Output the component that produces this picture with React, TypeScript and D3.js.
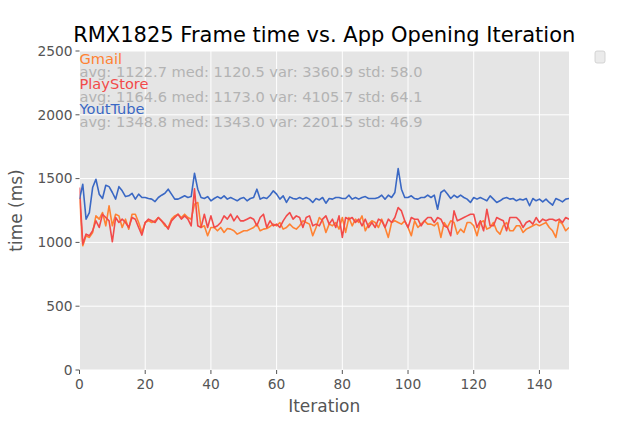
import React from "react";
import * as d3 from "d3";

const title = "RMX1825 Frame time vs. App Opening Iteration";
const seriesNames = ["Gmail", "PlayStore", "YoutTube"];
const seriesColors = ["#FF8232", "#F24A4A", "#3A68C4"];
const statLines = [
  "avg: 1122.7 med: 1120.5 var: 3360.9 std: 58.0",
  "avg: 1164.6 med: 1173.0 var: 4105.7 std: 64.1",
  "avg: 1348.8 med: 1343.0 var: 2201.5 std: 46.9",
];
const xTicks = [0, 20, 40, 60, 80, 100, 120, 140];
const yTicks = [0, 500, 1000, 1500, 2000, 2500];

const gmail = [
  1350, 974, 1052, 1039, 1078, 1208, 1182, 1234, 1130, 1286,
  1130, 1221, 1208, 1117, 1182, 1104, 1221, 1221, 1156, 1078,
  1156, 1169, 1156, 1169, 1195, 1169, 1130, 1117, 1182, 1208,
  1221, 1195, 1221, 1195, 1182, 1300, 1313, 1117, 1130, 1052,
  1117, 1117, 1091, 1117, 1078, 1109, 1104, 1091, 1065, 1078,
  1091, 1091, 1104, 1117, 1143, 1091, 1104, 1109, 1125, 1143,
  1130, 1156, 1104, 1117, 1143, 1117, 1104, 1130, 1169, 1156,
  1143, 1052, 1117, 1195, 1169, 1078, 1143, 1130, 1156, 1104,
  1195, 1078, 1195, 1130, 1182, 1156, 1208, 1091, 1143, 1169,
  1156, 1117, 1182, 1117, 1039, 1156, 1169, 1156, 1143, 1169,
  1117, 1052, 1169, 1117, 1143, 1169, 1143, 1143, 1130, 1156,
  1039, 1156, 1117, 1169, 1156, 1065, 1104, 1078, 1156, 1156,
  1130, 1052, 1156, 1169, 1104, 1117, 1156, 1091, 1065, 1130,
  1156, 1091, 1091, 1130, 1130, 1078, 1104, 1117, 1130, 1143,
  1130, 1143, 1156, 1117, 1091, 1039, 1169, 1143, 1091, 1117,
];
const playStore = [
  1430, 987, 1065, 1052, 1091, 1169, 1117, 1221, 1195, 1169,
  1005, 1195, 1156, 1182, 1156, 1117, 1195, 1182, 1117, 1057,
  1156, 1182, 1169, 1156, 1195, 1169, 1143, 1104, 1169, 1195,
  1221, 1182, 1208, 1182, 1130, 1420, 1130, 1117, 1221, 1117,
  1208, 1117, 1130, 1156, 1208, 1182, 1221, 1169, 1208, 1169,
  1169, 1182, 1195, 1182, 1130, 1195, 1221, 1117, 1169, 1130,
  1143, 1117, 1169, 1208, 1234, 1182, 1208, 1195, 1117, 1195,
  1208, 1130, 1143, 1130, 1182, 1208, 1143, 1182, 1117, 1208,
  1039, 1195, 1182, 1195, 1156, 1182, 1130, 1182, 1117, 1156,
  1117, 1182, 1169, 1117, 1182, 1156, 1195, 1273, 1247, 1169,
  1117, 1195, 1182, 1182, 1130, 1169, 1195, 1195, 1156, 1195,
  1182, 1130, 1117, 1052, 1247, 1169, 1182, 1195, 1208, 1221,
  1221, 1117, 1169, 1091, 1260, 1130, 1130, 1195, 1182, 1169,
  1091, 1195, 1195, 1195, 1169, 1117, 1156, 1169, 1143, 1195,
  1156, 1182, 1169, 1182, 1182, 1169, 1182, 1156, 1195, 1182,
];
const youTube = [
  1339, 1456, 1182, 1234, 1430, 1495, 1378, 1344, 1448, 1437,
  1391, 1339, 1437, 1404, 1359, 1365, 1385, 1339, 1378, 1352,
  1352, 1344, 1339, 1320, 1352, 1370, 1385, 1417, 1378, 1339,
  1339, 1352, 1365, 1352, 1359, 1542, 1417, 1352, 1344, 1359,
  1326, 1344, 1359, 1344, 1365, 1339, 1352, 1339, 1326, 1344,
  1352, 1326, 1344, 1352, 1417, 1339, 1352, 1344, 1370, 1404,
  1378, 1339, 1365, 1313, 1357, 1344, 1339, 1352, 1339, 1352,
  1339, 1313, 1344, 1333, 1352, 1307, 1344, 1339, 1352, 1352,
  1344, 1344, 1370, 1339, 1352, 1339, 1352, 1359, 1344, 1344,
  1344, 1352, 1370, 1339, 1370, 1352, 1391, 1578, 1417, 1352,
  1352, 1365, 1344, 1339, 1352, 1352, 1370, 1352, 1370, 1260,
  1391, 1410, 1380, 1344, 1370, 1352, 1370, 1352, 1339, 1313,
  1352, 1339, 1352, 1339, 1326, 1365, 1339, 1313, 1326, 1344,
  1352, 1339, 1344, 1326, 1339, 1333, 1344, 1287, 1344, 1326,
  1339, 1318, 1339, 1313, 1292, 1344, 1333, 1318, 1339, 1344,
];
const seriesData = [gmail, playStore, youTube];

const W = 633;
const H = 422;
const margin = { left: 79.5, right: 64, top: 51, bottom: 52 };
const FONT = "DejaVu Sans, sans-serif";

export default function App() {
  const x = d3.scaleLinear().domain([0, 149]).range([margin.left, W - margin.right]);
  const y = d3.scaleLinear().domain([0, 2500]).range([H - margin.bottom, margin.top]);
  const line = d3
    .line<number>()
    .x((_, i) => x(i))
    .y((d) => y(d));
  const [x0, x1] = x.range();
  const [y0, y1] = y.range();

  return (
    <svg
      width={W}
      height={H}
      style={{ position: "absolute", left: 0, top: 0, background: "#fff" }}
      fontFamily={FONT}
    >
      <rect x={x0} y={y1} width={x1 - x0} height={y0 - y1} fill="#E5E5E5" />
      {xTicks.map((t) => (
        <line key={"gx" + t} x1={x(t)} x2={x(t)} y1={y1} y2={y0} stroke="#fff" strokeWidth={1} />
      ))}
      {yTicks.map((t) => (
        <line key={"gy" + t} x1={x0} x2={x1} y1={y(t)} y2={y(t)} stroke="#fff" strokeWidth={1} />
      ))}
      <defs>
        <clipPath id="plotclip">
          <rect x={x0} y={y1} width={x1 - x0} height={y0 - y1} />
        </clipPath>
      </defs>
      <g clipPath="url(#plotclip)">
        {seriesData.map((s, k) => (
          <path
            key={seriesNames[k]}
            d={line(s) || ""}
            fill="none"
            stroke={seriesColors[k]}
            strokeWidth={1.6}
            strokeLinejoin="round"
          />
        ))}
      </g>
      {yTicks.map((t) => (
        <g key={"ty" + t}>
          <line x1={x0 - 4} x2={x0} y1={y(t)} y2={y(t)} stroke="#555" strokeWidth={1} />
          <text x={x0 - 7} y={y(t)} dy="0.35em" textAnchor="end" fontSize={13.8} fill="#555">
            {t}
          </text>
        </g>
      ))}
      {xTicks.map((t) => (
        <g key={"tx" + t}>
          <line x1={x(t)} x2={x(t)} y1={y0} y2={y0 + 4} stroke="#555" strokeWidth={1} />
          <text x={x(t)} y={y0 + 19} textAnchor="middle" fontSize={13.8} fill="#555">
            {t}
          </text>
        </g>
      ))}
      <text x={(x0 + x1) / 2} y={412} textAnchor="middle" fontSize={17} fill="#555">
        Iteration
      </text>
      <text
        transform={`translate(22,${(y0 + y1) / 2}) rotate(-90)`}
        textAnchor="middle"
        fontSize={17}
        fill="#555"
      >
        time (ms)
      </text>
      <text x={(x0 + x1) / 2} y={42} textAnchor="middle" fontSize={21} fill="#000">
        {title}
      </text>
      {seriesNames.map((n, k) => (
        <g key={"lab" + n}>
          <text x={x0} y={64 + k * 25.2} fontSize={14.6} fill={seriesColors[k]}>
            {n}
          </text>
          <text x={x0} y={76.8 + k * 25.2} fontSize={14.6} fill="#B3B3B3">
            {statLines[k]}
          </text>
        </g>
      ))}
      <rect x={595} y={51} width={10} height={12} rx={2} fill="#EBEBEB" stroke="#CCCCCC" strokeWidth={0.8} />
    </svg>
  );
}
